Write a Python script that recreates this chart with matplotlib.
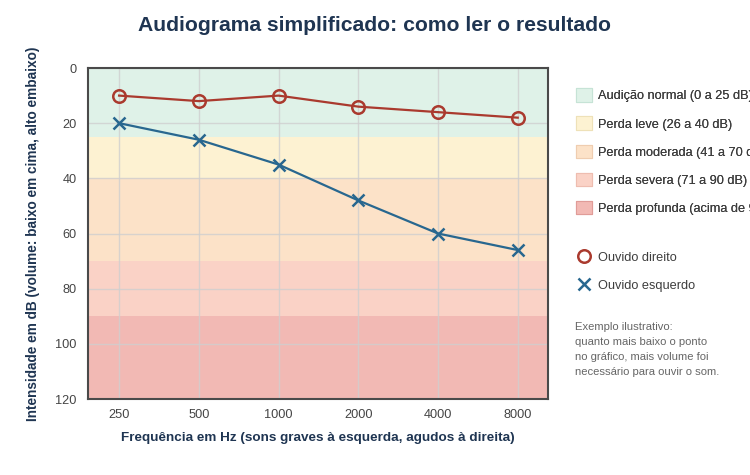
import matplotlib
matplotlib.use("Agg")
import matplotlib.pyplot as plt
from matplotlib.patches import Patch
from matplotlib.lines import Line2D

plt.rcParams['font.family'] = ['Liberation Sans', 'DejaVu Sans']

freqs = ["250", "500", "1000", "2000", "4000", "8000"]
right_ear = [10, 12, 10, 14, 16, 18]
left_ear = [20, 26, 35, 48, 60, 66]

band_labels = ["Audição normal (0 a 25 dB)", "Perda leve (26 a 40 dB)",
               "Perda moderada (41 a 70 dB)", "Perda severa (71 a 90 dB)",
               "Perda profunda (acima de 90 dB)"]
band_lo = [0, 25, 40, 70, 90]
band_hi = [25, 40, 70, 90, 120]
band_colors = ["#dff2e8", "#fdf2d2", "#fce2c8", "#fad2c6", "#f2b9b4"]
band_edges = ["#c6e3d6", "#eee1b8", "#efcdb0", "#eebdb0", "#e09c98"]

series_labels = ["Ouvido direito", "Ouvido esquerdo"]
note = ("Exemplo ilustrativo:\nquanto mais baixo o ponto\nno gráfico, mais volume foi\n"
        "necessário para ouvir o som.")

navy = "#1f3552"
red = "#aa3a2e"
blue = "#28678f"

fig = plt.figure(figsize=(7.5, 4.75), dpi=100)
ax = fig.add_axes([0.1173, 0.16, 0.6134, 0.6968])

x = list(range(len(freqs)))
for lo, hi, c in zip(band_lo, band_hi, band_colors):
    ax.axhspan(lo, hi, color=c, zorder=0, lw=0)

ax.grid(True, color="#cfcfcf", lw=1, zorder=1)
for gl in ax.get_xgridlines() + ax.get_ygridlines():
    gl.set_zorder(1)
    gl.set_alpha(0.8)

ax.plot(x, right_ear, color=red, lw=1.6, marker='o', ms=9, mfc='none',
        mec=red, mew=1.8, zorder=3)
ax.plot(x, left_ear, color=blue, lw=1.6, marker='x', ms=9, mew=1.8, zorder=3)

ax.set_xlim(-0.39, 5.38)
ax.set_ylim(120, 0)
ax.set_xticks(x)
ax.set_xticklabels(freqs)
ax.set_yticks([0, 20, 40, 60, 80, 100, 120])
ax.tick_params(axis='both', length=0, labelsize=9.2, colors="#444444", pad=8)
ax.tick_params(axis='x', pad=7)
for s in ax.spines.values():
    s.set_color("#4a4a4a")
    s.set_linewidth(1.5)

ax.set_xlabel("Frequência em Hz (sons graves à esquerda, agudos à direita)",
              fontsize=9.7, fontweight='bold', color=navy, labelpad=8)
ax.set_ylabel("Intensidade em dB (volume: baixo em cima, alto embaixo)",
              fontsize=9.8, fontweight='bold', color=navy, labelpad=11)

fig.text(0.5, 0.947, "Audiograma simplificado: como ler o resultado",
         ha='center', va='center', fontsize=15.2, fontweight='bold', color=navy)

band_handles = [Patch(facecolor=c, edgecolor=e, lw=0.8)
                for c, e in zip(band_colors, band_edges)]
leg1 = fig.legend(band_handles, band_labels, loc='upper left',
                  bbox_to_anchor=(0.768, 0.814), frameon=False, fontsize=9.2,
                  handlelength=1.25, handleheight=1.25, handletextpad=0.45,
                  labelspacing=1.1, borderaxespad=0, borderpad=0,
                  labelcolor="#3d3d3d")
fig.add_artist(leg1)

series_handles = [Line2D([], [], color=red, marker='o', ls='none', ms=9,
                         mfc='none', mew=1.8),
                  Line2D([], [], color=blue, marker='x', ls='none', ms=9, mew=1.8)]
fig.legend(series_handles, series_labels, loc='upper left',
           bbox_to_anchor=(0.768, 0.47), frameon=False, fontsize=9.2,
           handlelength=1.25, handletextpad=0.45, labelspacing=1.25,
           borderaxespad=0, borderpad=0, labelcolor="#3d3d3d")

fig.text(0.767, 0.323, note, ha='left', va='top', fontsize=8.1,
         color="#666666", linespacing=1.65)

fig.savefig("out.png", dpi=100)
